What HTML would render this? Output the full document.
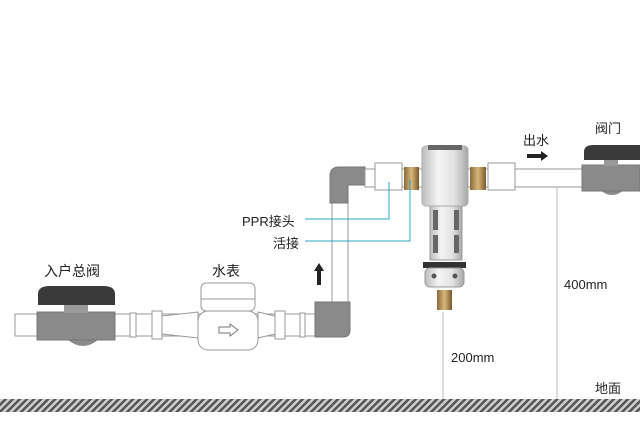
<!DOCTYPE html>
<html><head><meta charset="utf-8"><style>
html,body{margin:0;padding:0;background:#fff;width:640px;height:427px;overflow:hidden}
svg{display:block}
text{font-family:"Liberation Sans","Noto Sans CJK SC",sans-serif;fill:#222}
</style></head><body>
<svg width="640" height="427" viewBox="0 0 640 427">
<defs>
<pattern id="h" width="5" height="5" patternUnits="userSpaceOnUse" patternTransform="rotate(45)">
<rect width="5" height="5" fill="#cfcfcf"/><rect width="2.5" height="5" fill="#555"/></pattern>
<linearGradient id="s" x1="0" x2="1"><stop offset="0" stop-color="#bdbdbd"/><stop offset=".35" stop-color="#f4f4f4"/><stop offset=".7" stop-color="#e2e2e2"/><stop offset="1" stop-color="#a8a8a8"/></linearGradient>
<linearGradient id="b" x1="0" x2="1"><stop offset="0" stop-color="#8a6a3a"/><stop offset=".5" stop-color="#d9b679"/><stop offset="1" stop-color="#7a5a2a"/></linearGradient>
</defs>
<rect x="0" y="399" width="640" height="13" fill="url(#h)"/>
<!-- left pipe -->
<rect x="15" y="314" width="300" height="22" fill="#fff" stroke="#999"/>
<!-- left valve -->
<path d="M68 340 Q83 352 98 340Z" fill="#8a8a8a"/>
<rect x="37" y="312" width="78" height="28" fill="#8a8a8a" stroke="#777"/>
<rect x="64" y="303" width="24" height="10" fill="#999"/>
<path d="M38 305 L38 294 Q38 286 50 286 L103 286 Q115 286 115 294 L115 305Z" fill="#3a3a3a"/>
<!-- collars -->
<rect x="130" y="313" width="6" height="24" fill="#fff" stroke="#999"/>
<rect x="152" y="311" width="10" height="28" fill="#fff" stroke="#999"/>
<path d="M162 316 L198 312 L198 338 L162 334Z" fill="#fff" stroke="#999"/>
<path d="M258 312 L275 316 L275 334 L258 338Z" fill="#fff" stroke="#999"/>
<rect x="275" y="311" width="10" height="28" fill="#fff" stroke="#999"/>
<rect x="300" y="313" width="5" height="24" fill="#fff" stroke="#999"/>
<!-- meter -->
<rect x="201" y="283" width="54" height="28" rx="5" fill="#fff" stroke="#999"/>
<line x1="201" y1="299" x2="255" y2="299" stroke="#999"/>
<rect x="198" y="311" width="60" height="39" rx="10" fill="#fff" stroke="#999"/>
<path d="M219 327 h11 v-3 l8 6 l-8 6 v-3 h-11z" fill="#fff" stroke="#777"/>
<!-- vertical pipe -->
<rect x="332" y="200" width="16" height="104" fill="#fff" stroke="#999"/>
<path d="M315 302 L348 302 L350 302 L350 330 Q350 337 343 337 L315 337Z" fill="#8a8a8a" stroke="#777"/>
<path d="M330 203 L330 176 Q330 167 339 167 L365 167 L365 185 L348 185 L348 203Z" fill="#8a8a8a" stroke="#777"/>
<path d="M317 285 v-14 h-3 l5 -8 l5 8 h-3 v14z" fill="#222"/>
<!-- top pipe -->
<rect x="365" y="169" width="220" height="18" fill="#fff" stroke="#999"/>
<rect x="375" y="163" width="27" height="27" fill="#fff" stroke="#999"/>
<rect x="404" y="167" width="15" height="23" fill="url(#b)"/>
<rect x="470" y="167" width="16" height="23" fill="url(#b)"/>
<rect x="488" y="163" width="27" height="27" fill="#fff" stroke="#999"/>
<!-- filter -->
<rect x="430" y="204" width="32" height="56" fill="url(#s)" stroke="#999"/>
<rect x="433" y="210" width="5" height="20" fill="#666"/><rect x="454" y="210" width="5" height="20" fill="#666"/>
<rect x="433" y="235" width="5" height="18" fill="#666"/><rect x="454" y="235" width="5" height="18" fill="#666"/>
<rect x="423" y="262" width="43" height="6" fill="#333"/>
<rect x="425" y="268" width="39" height="19" rx="5" fill="url(#s)" stroke="#999"/>
<circle cx="434" cy="276" r="2.5" fill="#555"/><circle cx="455" cy="276" r="2.5" fill="#555"/>
<rect x="437" y="290" width="15" height="20" fill="url(#b)"/>
<rect x="422" y="146" width="46" height="60" rx="4" fill="url(#s)" stroke="#aaa"/>
<rect x="428" y="145" width="34" height="5" fill="#666"/>
<!-- right valve -->
<path d="M600 190 Q612 200 624 190Z" fill="#8a8a8a"/>
<rect x="582" y="165" width="58" height="26" fill="#8a8a8a" stroke="#777"/>
<rect x="604" y="157" width="14" height="9" fill="#999"/>
<path d="M584 160 L584 152 Q584 145 593 145 L640 145 L640 160Z" fill="#3a3a3a"/>
<!-- dimension lines -->
<line x1="443" y1="312" x2="443" y2="399" stroke="#bbb"/>
<line x1="557" y1="188" x2="557" y2="399" stroke="#bbb"/>
<!-- cyan leaders -->
<polyline points="305,219 389,219 389,182" fill="none" stroke="#2aa7c5"/>
<polyline points="305,241 410,241 410,180" fill="none" stroke="#2aa7c5"/>
<path d="M527 154 h14 v-3 l7 5 l-7 5 v-3 h-14z" fill="#222"/>
<text x="44" y="276" font-size="14">入户总阀</text>
<text x="212" y="276" font-size="14">水表</text>
<text x="242" y="226" font-size="13">PPR接头</text>
<text x="273" y="248" font-size="13">活接</text>
<text x="523" y="145" font-size="13">出水</text>
<text x="595" y="133" font-size="13">阀门</text>
<text x="564" y="289" font-size="13">400mm</text>
<text x="451" y="362" font-size="13">200mm</text>
<text x="595" y="393" font-size="13">地面</text>
</svg>
</body></html>
